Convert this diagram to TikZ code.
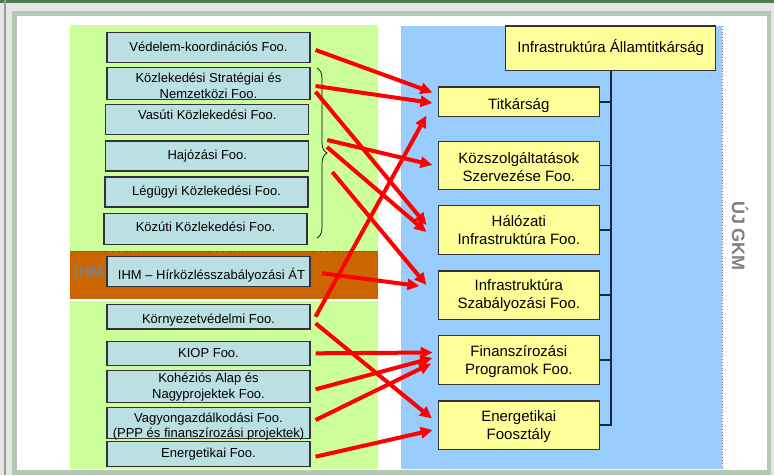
\documentclass[tikz,border=0pt]{standalone}
\usepackage{fontspec}
\setmainfont{Liberation Sans}
\usetikzlibrary{arrows.meta,decorations.pathreplacing,calc}
\definecolor{pagebg}{HTML}{E4E7E4}
\definecolor{topgreen}{HTML}{4B7B50}
\definecolor{framegreen}{HTML}{B5C8B5}
\definecolor{lgreen}{HTML}{CCFF99}
\definecolor{lblue}{HTML}{99CCFF}
\definecolor{orangeband}{HTML}{CC6600}
\definecolor{cyanbox}{RGB}{186,224,227}
\definecolor{yelbox}{HTML}{FFFF99}
\definecolor{boxline}{HTML}{333333}
\definecolor{orgc}{HTML}{1C2A38}
\definecolor{labelgray}{HTML}{7F7F7F}
\newcommand{\bxt}[2]{\raisebox{#1}[\height][\depth]{\begin{tabular}{@{}c@{}}#2\end{tabular}}}
\tikzset{
  lbox/.style={draw=boxline, line width=1.1pt, fill=cyanbox, minimum width=203pt, inner sep=0pt,
    font=\fontsize{13}{16}\selectfont},
  rbox/.style={draw=boxline, line width=1.1pt, fill=yelbox, minimum width=161pt, minimum height=48.5pt, inner sep=0pt,
    font=\fontsize{15}{18}\selectfont},
  arr/.style={draw=red, line width=4pt, -{Triangle[length=12pt,width=11pt]}},
  orgline/.style={line width=1.6pt, draw=orgc},
  bigtag/.style={text=labelgray, font=\bfseries\fontsize{16}{18}\selectfont, inner sep=0pt},
}
\begin{document}
\begin{tikzpicture}[x=1pt,y=-1pt]
\useasboundingbox (0,0) rectangle (774,475);
% frame
\fill[pagebg] (0,0) rectangle (774,475);
\fill[topgreen] (0,0) rectangle (774,2.5);
\fill[gray!80] (4,0) rectangle (6,475);
\fill[framegreen] (12,11) rectangle (771,475);
\fill[white] (17,16) rectangle (767,470);
% backgrounds
\fill[lgreen] (70,25) rectangle (378,251);
\fill[orangeband] (70,251) rectangle (378,299);
\fill[lgreen] (70,301) rectangle (378,469);
\draw[black!70, dotted, line width=0.6pt] (70,251) -- (378,251);
\fill[lblue] (401,26) rectangle (722,469);
\draw[black!55, dotted, line width=0.8pt] (722,26) -- (722,469);
\node[bigtag] (ihmtag) at (89,272) {IHM};
\node[bigtag, rotate=-90, font=\bfseries\fontsize{18}{20}\selectfont] (ujgkm) at (740,236) {ÚJ GKM};
% left boxes
\node[lbox, minimum height=30pt] (L1) at (208.5,47.3) {\bxt{-0.9pt}{Védelem-koordinációs Foo.}};
\node[lbox, minimum height=29.6pt] (L2) at (208.5,83.5) {\bxt{-3.8pt}{Közlekedési Stratégiai és\\Nemzetközi Foo.}};
\node[lbox, minimum height=30.4pt] (L3) at (207.3,119.5) {\bxt{3pt}{Vasúti Közlekedési Foo.}};
\node[lbox, minimum height=30pt] (L4) at (207.3,156) {\bxt{-0.5pt}{Hajózási Foo.}};
\node[lbox, minimum height=30pt] (L5) at (206.5,192) {\bxt{-0.2pt}{Légügyi Közlekedési Foo.}};
\node[lbox, minimum height=30.7pt] (L6) at (205.5,228.7) {\bxt{0.5pt}{Közúti Közlekedési Foo.}};
\node[lbox, minimum height=30.3pt] (L7) at (208.5,271.2) {\bxt{-5.3pt}{\hspace*{6pt}IHM – Hírközlésszabályozási ÁT}};
\node[lbox, minimum height=24.3pt] (L8) at (208.5,316.8) {\bxt{-3.7pt}{Környezetvédelmi Foo.}};
\node[lbox, minimum height=24.3pt] (L9) at (208.5,353.2) {\bxt{-1.1pt}{KIOP Foo.}};
\node[lbox, minimum height=30.7pt] (L10) at (208.5,386.3) {\bxt{-1.3pt}{Kohéziós Alap és\\Nagyprojektek Foo.}};
\node[lbox, minimum height=30.6pt, font=\fontsize{13}{15}\selectfont] (L11) at (208.5,423) {\bxt{-4.1pt}{Vagyongazdálkodási Foo.\\(PPP és finanszírozási projektek)}};
\node[lbox, minimum height=25pt] (L12) at (208.5,454.2) {\bxt{-0.3pt}{Energetikai Foo.}};
% brace
\draw[black, line width=0.7pt, decorate, decoration={brace, amplitude=10pt}] (317,68) -- (317,238);
\coordinate (bt) at (328,153);
% right boxes
\node[rbox, minimum width=210pt, minimum height=44.7pt] (R0) at (610.7,48.35) {\bxt{-0.4pt}{Infrastruktúra Államtitkárság}};
\node[rbox, minimum height=29.7pt] (R1) at (518.8,101.8) {\bxt{-3.8pt}{Titkárság}};
\node[rbox] (R2) at (518.8,165.3) {\bxt{-3.6pt}{Közszolgáltatások\\Szervezése Foo.}};
\node[rbox] (R3) at (518.8,230) {\bxt{-2.2pt}{Hálózati\\Infrastruktúra Foo.}};
\node[rbox] (R4) at (518.8,295.2) {\bxt{-1.1pt}{Infrastruktúra\\Szabályozási Foo.}};
\node[rbox] (R5) at (518.8,360) {\bxt{-2.2pt}{Finanszírozási\\Programok Foo.}};
\node[rbox] (R6) at (518.8,425.2) {\bxt{-2.1pt}{Energetikai\\Foosztály}};
% org lines
\draw[orgline] (R0.south) -- (R0.south |- R6.east) -- (R6.east);
\foreach \n in {R1,R2,R3,R4,R5} \draw[orgline] (\n.east) -- (\n.east -| R0.south);
% red arrows
\draw[arr] ([shift={(5,2.7)}]L1.east) -- ([shift={(-5.3,-9.3)}]R1.west);
\draw[arr] ([shift={(5,2.5)}]L2.east) -- ([shift={(-5.3,1.2)}]R1.west);
\draw[arr] ([shift={(5,8.2)}]L2.east) -- ([shift={(-11.3,-5)}]R3.west);
\draw[arr] ([shift={(-0.7,-13)}]bt) -- ([shift={(-5.3,-0.3)}]R2.west);
\draw[arr] ([shift={(-1,-6)}]bt) -- ([shift={(-11.3,2)}]R3.west);
\draw[arr] ([shift={(4.3,19)}]bt) -- ([shift={(-11.3,-10.2)}]R4.west);
\draw[arr] ([shift={(11.7,2.1)}]L7.east) -- ([shift={(-18.3,-9.2)}]R4.west);
\draw[arr] ([shift={(5,-0.1)}]L8.east) -- ([shift={(-11.3,13.7)}]R1.west);
\draw[arr] ([shift={(5,6.5)}]L8.east) -- ([shift={(-5.8,-6.7)}]R6.west);
\draw[arr] ([shift={(5,0.1)}]L9.east) -- ([shift={(-5,-7.5)}]R5.west);
\draw[arr] ([shift={(5,3)}]L10.east) -- ([shift={(-5.3,-2)}]R5.west);
\draw[arr] ([shift={(5,-3)}]L11.east) -- ([shift={(-6.6,3.5)}]R5.west);
\draw[arr] ([shift={(5,2.5)}]L12.east) -- ([shift={(-5,4.8)}]R6.west);
\end{tikzpicture}
\end{document}
